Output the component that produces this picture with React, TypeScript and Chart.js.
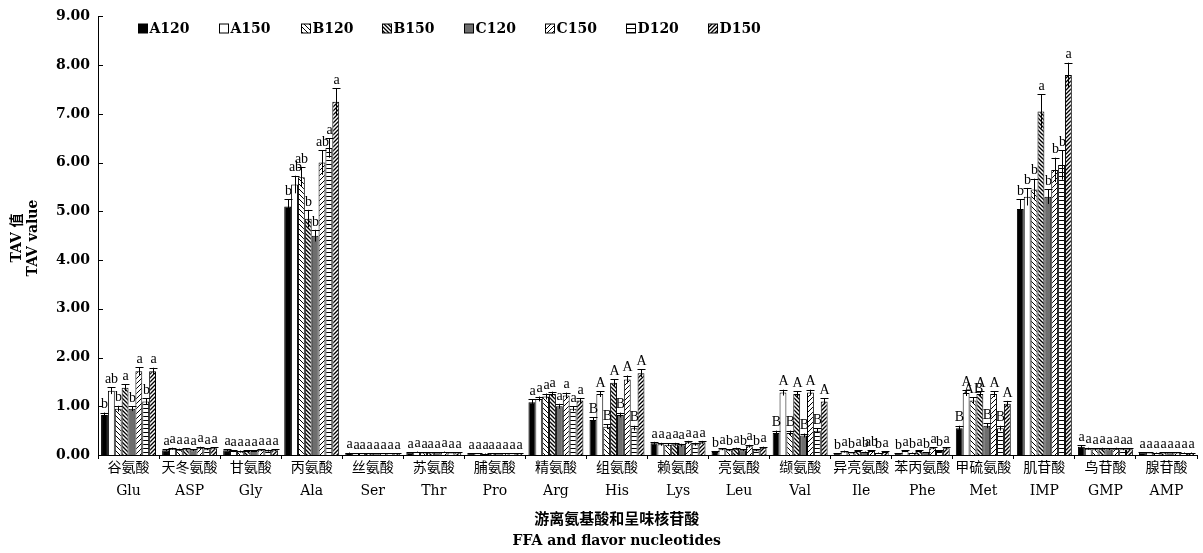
import React, { useEffect, useRef } from 'react';
import { Chart, registerables } from 'chart.js';
Chart.register(...registerables);

const categoriesCn = ['谷氨酸', '天冬氨酸', '甘氨酸', '丙氨酸', '丝氨酸', '苏氨酸', '脯氨酸', '精氨酸', '组氨酸', '赖氨酸', '亮氨酸', '缬氨酸', '异亮氨酸', '苯丙氨酸', '甲硫氨酸', '肌苷酸', '鸟苷酸', '腺苷酸'];
const categoriesEn = ['Glu', 'ASP', 'Gly', 'Ala', 'Ser', 'Thr', 'Pro', 'Arg', 'His', 'Lys', 'Leu', 'Val', 'Ile', 'Phe', 'Met', 'IMP', 'GMP', 'AMP'];
const seriesNames = ['A120', 'A150', 'B120', 'B150', 'C120', 'C150', 'D120', 'D150'];
const yTicks = [0, 1, 2, 3, 4, 5, 6, 7, 8, 9];

const A120 = [0.82, 0.10, 0.10, 5.10, 0.04, 0.05, 0.03, 1.08, 0.72, 0.24, 0.06, 0.45, 0.03, 0.03, 0.55, 5.05, 0.17, 0.05];
const A150 = [1.32, 0.13, 0.08, 5.55, 0.03, 0.06, 0.03, 1.15, 1.25, 0.22, 0.12, 1.28, 0.07, 0.08, 1.27, 5.30, 0.13, 0.05];
const B120 = [0.95, 0.11, 0.07, 5.70, 0.03, 0.05, 0.02, 1.20, 0.58, 0.21, 0.10, 0.45, 0.05, 0.04, 1.12, 5.45, 0.12, 0.04];
const B150 = [1.38, 0.12, 0.08, 4.85, 0.03, 0.05, 0.03, 1.25, 1.48, 0.22, 0.13, 1.25, 0.08, 0.08, 1.25, 7.05, 0.13, 0.05];
const C120 = [0.95, 0.10, 0.08, 4.50, 0.03, 0.05, 0.03, 1.00, 0.82, 0.20, 0.10, 0.40, 0.06, 0.05, 0.60, 5.30, 0.12, 0.05];
const C150 = [1.72, 0.15, 0.10, 6.00, 0.03, 0.06, 0.03, 1.22, 1.55, 0.26, 0.18, 1.28, 0.08, 0.14, 1.25, 5.85, 0.13, 0.05];
const D120 = [1.10, 0.12, 0.09, 6.30, 0.03, 0.05, 0.03, 0.95, 0.55, 0.22, 0.10, 0.50, 0.04, 0.08, 0.55, 5.95, 0.12, 0.04];
const D150 = [1.72, 0.14, 0.10, 7.25, 0.03, 0.05, 0.03, 1.12, 1.68, 0.26, 0.15, 1.10, 0.06, 0.14, 1.05, 7.80, 0.12, 0.04];

const errA120 = [0.05, 0.02, 0.02, 0.15, 0.01, 0.01, 0.01, 0.06, 0.05, 0.03, 0.02, 0.05, 0.01, 0.01, 0.05, 0.20, 0.03, 0.01];
const errA150 = [0.07, 0.02, 0.02, 0.18, 0.01, 0.01, 0.01, 0.05, 0.06, 0.03, 0.02, 0.06, 0.02, 0.02, 0.06, 0.18, 0.02, 0.01];
const errB120 = [0.06, 0.02, 0.02, 0.20, 0.01, 0.01, 0.01, 0.06, 0.05, 0.03, 0.02, 0.05, 0.01, 0.01, 0.06, 0.22, 0.02, 0.01];
const errB150 = [0.07, 0.02, 0.02, 0.18, 0.01, 0.01, 0.01, 0.05, 0.07, 0.03, 0.02, 0.06, 0.02, 0.02, 0.06, 0.35, 0.02, 0.01];
const errC120 = [0.05, 0.02, 0.02, 0.12, 0.01, 0.01, 0.01, 0.05, 0.05, 0.03, 0.02, 0.04, 0.01, 0.01, 0.05, 0.15, 0.02, 0.01];
const errC150 = [0.08, 0.02, 0.02, 0.25, 0.01, 0.01, 0.01, 0.06, 0.08, 0.03, 0.03, 0.06, 0.02, 0.02, 0.06, 0.25, 0.02, 0.01];
const errD120 = [0.06, 0.02, 0.02, 0.20, 0.01, 0.01, 0.01, 0.05, 0.05, 0.03, 0.02, 0.05, 0.01, 0.02, 0.05, 0.30, 0.02, 0.01];
const errD150 = [0.07, 0.02, 0.02, 0.28, 0.01, 0.01, 0.01, 0.05, 0.08, 0.03, 0.02, 0.06, 0.02, 0.02, 0.06, 0.25, 0.02, 0.01];

const lettersA120 = ['b', 'a', 'a', 'b', 'a', 'a', 'a', 'a', 'B', 'a', 'b', 'B', 'b', 'b', 'B', 'b', 'a', 'a'];
const lettersA150 = ['ab', 'a', 'a', 'ab', 'a', 'a', 'a', 'a', 'A', 'a', 'a', 'A', 'a', 'a', 'A', 'b', 'a', 'a'];
const lettersB120 = ['b', 'a', 'a', 'ab', 'a', 'a', 'a', 'a', 'B', 'a', 'b', 'B', 'b', 'b', 'AB', 'b', 'a', 'a'];
const lettersB150 = ['a', 'a', 'a', 'b', 'a', 'a', 'a', 'a', 'A', 'a', 'a', 'A', 'a', 'a', 'A', 'a', 'a', 'a'];
const lettersC120 = ['b', 'a', 'a', 'b', 'a', 'a', 'a', 'a', 'B', 'a', 'b', 'B', 'b', 'b', 'B', 'b', 'a', 'a'];
const lettersC150 = ['a', 'a', 'a', 'ab', 'a', 'a', 'a', 'a', 'A', 'a', 'a', 'A', 'ab', 'a', 'A', 'b', 'a', 'a'];
const lettersD120 = ['b', 'a', 'a', 'a', 'a', 'a', 'a', 'a', 'B', 'a', 'b', 'B', 'b', 'b', 'B', 'b', 'a', 'a'];
const lettersD150 = ['a', 'a', 'a', 'a', 'a', 'a', 'a', 'a', 'A', 'a', 'a', 'A', 'a', 'a', 'A', 'a', 'a', 'a'];

const yTitle = ['TAV 值', 'TAV value'];
const xTitle = ['游离氨基酸和呈味核苷酸', 'FFA and flavor nucleotides'];

const SERIF = '"DejaVu Serif", "Noto Sans CJK SC", serif';
const LSERIF = '"Liberation Serif", "Noto Sans CJK SC", serif';

function makePattern(kind: string): CanvasPattern | string {
  const s = kind === 'dense-back' || kind === 'dense-fwd' ? 4 : 5;
  const c = document.createElement('canvas');
  c.width = s;
  c.height = kind === 'horiz' ? 4 : s;
  const ctx = c.getContext('2d')!;
  ctx.fillStyle = '#fff';
  ctx.fillRect(0, 0, c.width, c.height);
  ctx.strokeStyle = '#000';
  ctx.fillStyle = '#000';
  ctx.lineWidth = kind.startsWith('dense') ? 1.3 : 1;
  ctx.beginPath();
  if (kind === 'back' || kind === 'dense-back') {
    ctx.moveTo(0, 0); ctx.lineTo(s, s);
    ctx.moveTo(-1, s - 1); ctx.lineTo(1, s + 1);
    ctx.moveTo(s - 1, -1); ctx.lineTo(s + 1, 1);
    ctx.stroke();
  } else if (kind === 'fwd' || kind === 'dense-fwd') {
    ctx.moveTo(0, s); ctx.lineTo(s, 0);
    ctx.moveTo(-1, 1); ctx.lineTo(1, -1);
    ctx.moveTo(s - 1, s + 1); ctx.lineTo(s + 1, s - 1);
    ctx.stroke();
  } else if (kind === 'horiz') {
    ctx.fillRect(0, 0, c.width, 1);
  }
  return ctx.createPattern(c, 'repeat') || '#fff';
}

export default function App() {
  const ref = useRef<HTMLCanvasElement | null>(null);

  useEffect(() => {
    if (!ref.current) return;
    const values = [A120, A150, B120, B150, C120, C150, D120, D150];
    const errors = [errA120, errA150, errB120, errB150, errC120, errC150, errD120, errD150];
    const letters = [lettersA120, lettersA150, lettersB120, lettersB150, lettersC120, lettersC150, lettersD120, lettersD150];
    const fills = [
      '#000000',
      '#ffffff',
      makePattern('back'),
      makePattern('dense-back'),
      '#6e6e6e',
      makePattern('fwd'),
      makePattern('horiz'),
      makePattern('dense-fwd'),
    ];

    const decor = {
      id: 'decor',
      afterDatasetsDraw(chart: any) {
        const { ctx, scales } = chart;
        const y = scales.y;
        ctx.save();
        ctx.strokeStyle = '#000';
        ctx.fillStyle = '#000';
        ctx.lineWidth = 1;
        ctx.font = `14px ${LSERIF}`;
        ctx.textAlign = 'center';
        ctx.textBaseline = 'bottom';
        chart.data.datasets.forEach((ds: any, i: number) => {
          const meta = chart.getDatasetMeta(i);
          meta.data.forEach((el: any, j: number) => {
            const v = values[i][j];
            const e = errors[i][j];
            const top = y.getPixelForValue(v + e);
            const bot = y.getPixelForValue(Math.max(0, v - e));
            const x = Math.round(el.x) + 0.5;
            ctx.beginPath();
            ctx.moveTo(x, bot);
            ctx.lineTo(x, top);
            ctx.moveTo(x - 4, Math.round(top) + 0.5);
            ctx.lineTo(x + 4, Math.round(top) + 0.5);
            ctx.stroke();
            ctx.fillText(letters[i][j], x, top - 1);
          });
        });
        ctx.restore();
      },
      afterDraw(chart: any) {
        const { ctx, chartArea, scales } = chart;
        const y = scales.y;
        ctx.save();
        ctx.strokeStyle = '#000';
        ctx.lineWidth = 1;
        // inward y ticks
        yTicks.forEach((t) => {
          const py = Math.round(y.getPixelForValue(t)) + 0.5;
          ctx.beginPath();
          ctx.moveTo(chartArea.left, py);
          ctx.lineTo(chartArea.left + 5, py);
          ctx.stroke();
        });
        // legend
        const lx0 = 138;
        const step = 81.4;
        const ly = 28;
        ctx.font = `bold 14px ${SERIF}`;
        ctx.textAlign = 'left';
        ctx.textBaseline = 'middle';
        chart.data.datasets.forEach((ds: any, i: number) => {
          const bx = Math.round(lx0 + i * step) + 0.5;
          ctx.fillStyle = ds.backgroundColor;
          ctx.fillRect(bx, ly - 4, 9, 9);
          ctx.strokeStyle = '#000';
          ctx.strokeRect(bx, ly - 4, 9, 9);
          ctx.fillStyle = '#000';
          ctx.fillText(ds.label, bx + 11, ly + 1);
        });
        // y title
        ctx.save();
        ctx.translate(17, 238);
        ctx.rotate(-Math.PI / 2);
        ctx.textAlign = 'center';
        ctx.textBaseline = 'middle';
        ctx.font = `bold 14px ${SERIF}`;
        ctx.fillText(yTitle[0], 0, 0);
        ctx.fillText(yTitle[1], 0, 16);
        ctx.restore();
        // x title
        const tx = chartArea.left + (chartArea.right - chartArea.left) * 0.472;
        ctx.textAlign = 'center';
        ctx.textBaseline = 'middle';
        ctx.fillStyle = '#000';
        ctx.font = `bold 15px ${SERIF}`;
        ctx.fillText(xTitle[0], tx, 520);
        ctx.font = `bold 14px ${SERIF}`;
        ctx.fillText(xTitle[1], tx, 541);
        ctx.restore();
      },
    };

    const chart = new Chart(ref.current, {
      type: 'bar',
      data: {
        labels: categoriesCn.map((c, i) => [c, categoriesEn[i]]),
        datasets: seriesNames.map((n, i) => ({
          label: n,
          data: values[i],
          backgroundColor: fills[i] as any,
          borderColor: '#000',
          borderWidth: 1,
          categoryPercentage: 0.9,
          barPercentage: 1.0,
        })),
      },
      options: {
        animation: false,
        responsive: true,
        maintainAspectRatio: false,
        layout: { padding: { left: 0, right: 6, top: 10, bottom: 0 } },
        plugins: { legend: { display: false }, tooltip: { enabled: false } },
        scales: {
          x: {
            grid: { display: true, drawOnChartArea: false, drawTicks: true, tickLength: 4, color: '#000', offset: true },
            border: { display: true, color: '#000', width: 1 },
            ticks: {
              color: '#000',
              font: { family: SERIF, size: 14, lineHeight: 1.7 },
              padding: -3,
              maxRotation: 0,
              autoSkip: false,
            },
            afterFit: (s: any) => { s.height = 98; },
          },
          y: {
            min: 0,
            max: 9,
            grid: { display: false, drawTicks: false },
            border: { display: true, color: '#000', width: 1 },
            ticks: {
              stepSize: 1,
              color: '#000',
              padding: 8,
              font: { family: SERIF, size: 14, weight: 'bold' },
              callback: (v: any) => Number(v).toFixed(2),
            },
            afterFit: (s: any) => { s.width = 98; },
          },
        },
      },
      plugins: [decor],
    });
    return () => chart.destroy();
  }, []);

  return (
    <div style={{ position: 'absolute', left: 0, top: 0, width: 1203, height: 553, background: '#fff' }}>
      <canvas ref={ref} />
    </div>
  );
}
